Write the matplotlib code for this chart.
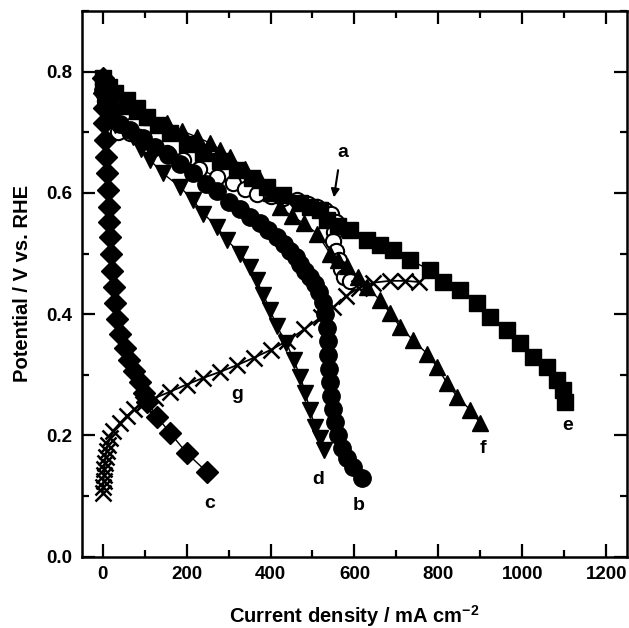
import matplotlib
matplotlib.use("Agg")
from matplotlib import pyplot as plt
from matplotlib.ticker import MultipleLocator

plt.rcParams['font.family'] = ['Liberation Sans', 'DejaVu Sans']
plt.rcParams['font.weight'] = 'bold'
plt.rcParams['mathtext.fontset'] = 'custom'
plt.rcParams['mathtext.rm'] = 'Liberation Sans:bold'
plt.rcParams['mathtext.bf'] = 'Liberation Sans:bold'
plt.rcParams['mathtext.default'] = 'bf'

# a: open circles
a_x = [0, 5, 15, 37, 66, 89, 121, 153, 191, 230, 272, 311, 340, 368, 400, 430, 463, 490, 511,
       530, 545, 556, 552, 550, 555, 562, 568, 576, 590]
a_y = [0.78, 0.752, 0.725, 0.70, 0.698, 0.69, 0.676, 0.665, 0.654, 0.64, 0.626, 0.616, 0.607,
       0.599, 0.595, 0.592, 0.588, 0.582, 0.577, 0.571, 0.565, 0.552, 0.535, 0.52, 0.505, 0.49,
       0.475, 0.462, 0.454]

# b: filled circles
b_x = [0, 8, 20, 40, 65, 95, 125, 155, 185, 215, 245, 272, 300, 327, 352, 375, 395, 415, 432,
       447, 460, 471, 483, 494, 505, 515, 524, 530, 534, 536, 538, 540, 542, 545, 549, 554, 561,
       570, 582, 597, 618]
b_y = [0.77, 0.745, 0.728, 0.713, 0.703, 0.69, 0.676, 0.662, 0.648, 0.632, 0.615, 0.603, 0.585,
       0.573, 0.561, 0.55, 0.538, 0.527, 0.516, 0.505, 0.494, 0.482, 0.472, 0.461, 0.449, 0.436,
       0.42, 0.40, 0.378, 0.355, 0.333, 0.31, 0.288, 0.265, 0.243, 0.222, 0.20, 0.18, 0.163,
       0.148, 0.13]

# c: filled diamonds
c_x = [0, 2, 3, 4, 6, 8, 10, 12, 14, 16, 18, 20, 23, 26, 30, 35, 42, 52, 63, 75, 88, 98, 106,
       130, 161, 200, 248]
c_y = [0.79, 0.765, 0.74, 0.715, 0.688, 0.66, 0.632, 0.605, 0.577, 0.552, 0.527, 0.50, 0.472,
       0.445, 0.418, 0.392, 0.367, 0.345, 0.325, 0.306, 0.288, 0.27, 0.255, 0.23, 0.204, 0.171,
       0.14]

# d: filled down triangles
d_x = [0, 10, 30, 50, 72, 92, 113, 144, 184, 215, 240, 272, 296, 328, 351, 367, 383, 399, 415,
       438, 455, 471, 483, 494, 506, 518, 528]
d_y = [0.75, 0.728, 0.712, 0.703, 0.693, 0.672, 0.654, 0.632, 0.61, 0.588, 0.566, 0.544, 0.522,
       0.50, 0.478, 0.456, 0.432, 0.407, 0.38, 0.352, 0.325, 0.297, 0.27, 0.242, 0.214, 0.195,
       0.176]

# e: filled squares
e_x = [0, 15, 30, 58, 82, 105, 132, 160, 200, 240, 280, 320, 355, 391, 430, 470, 495, 518, 535,
       560, 590, 630, 660, 692, 733, 780, 811, 852, 893, 924, 964, 995, 1026, 1059, 1083, 1098,
       1102]
e_y = [0.79, 0.775, 0.765, 0.753, 0.74, 0.725, 0.712, 0.698, 0.681, 0.665, 0.652, 0.638, 0.624,
       0.61, 0.597, 0.583, 0.577, 0.572, 0.555, 0.545, 0.539, 0.522, 0.514, 0.506, 0.489, 0.473,
       0.453, 0.44, 0.418, 0.395, 0.374, 0.353, 0.33, 0.313, 0.291, 0.275, 0.255]

# f: filled up triangles
f_x = [0, 10, 25, 50, 80, 115, 153, 190, 225, 256, 280, 304, 340, 375, 400, 423, 450, 479, 511,
       542, 560, 582, 609, 630, 661, 685, 709, 740, 773, 797, 821, 845, 876, 900]
f_y = [0.78, 0.765, 0.752, 0.743, 0.735, 0.725, 0.715, 0.702, 0.692, 0.682, 0.671, 0.659, 0.64,
       0.621, 0.60, 0.577, 0.562, 0.55, 0.533, 0.50, 0.49, 0.48, 0.461, 0.445, 0.423, 0.402,
       0.379, 0.357, 0.335, 0.313, 0.286, 0.264, 0.242, 0.22]

# g: crosses
g_x = [0, 1, 2, 3, 4, 5, 7, 9, 12, 17, 25, 40, 57, 75, 95, 125, 160, 200, 240, 280, 320, 360,
       400, 440, 480, 520, 550, 580, 610, 645, 685, 720, 755]
g_y = [0.105, 0.115, 0.125, 0.135, 0.145, 0.155, 0.165, 0.175, 0.185, 0.195, 0.207, 0.22, 0.232,
       0.243, 0.252, 0.262, 0.272, 0.284, 0.295, 0.305, 0.316, 0.328, 0.341, 0.356, 0.375,
       0.395, 0.412, 0.43, 0.443, 0.452, 0.455, 0.455, 0.453]

labels = ['a', 'b', 'c', 'd', 'e', 'f', 'g']
label_x = [573, 610, 256, 513, 1107, 907, 320]
label_y = [0.666, 0.085, 0.088, 0.127, 0.217, 0.178, 0.267]

fig = plt.figure(figsize=(6.29, 6.28), dpi=100)
ax = fig.add_axes([0.130, 0.1135, 0.867, 0.869])

ax.plot(a_x, a_y, '-o', color='black', lw=1, ms=11, mfc='white', mec='black', mew=1.5)
ax.plot(g_x, g_y, '-x', color='black', lw=1.3, ms=11, mew=1.8)
ax.plot(c_x, c_y, '-D', color='black', lw=1, ms=11)
ax.plot(d_x, d_y, '-v', color='black', lw=1, ms=12)
ax.plot(b_x, b_y, '-o', color='black', lw=1, ms=12.5)
ax.plot(f_x, f_y, '-^', color='black', lw=1, ms=12)
ax.plot(e_x, e_y, '-s', color='black', lw=1, ms=11)

for lab, lx, ly in zip(labels, label_x, label_y):
    ax.text(lx, ly, lab, fontsize=14, fontweight='bold', ha='center', va='center')
ax.annotate('', xy=(550, 0.588), xytext=(562, 0.642),
            arrowprops=dict(arrowstyle='-|>', color='black', lw=1.5, mutation_scale=12))

ax.set_xlim(-50, 1250)
ax.set_ylim(0, 0.9)
ax.xaxis.set_major_locator(MultipleLocator(200))
ax.xaxis.set_minor_locator(MultipleLocator(100))
ax.yaxis.set_major_locator(MultipleLocator(0.2))
ax.yaxis.set_minor_locator(MultipleLocator(0.1))
ax.set_xticks([0, 200, 400, 600, 800, 1000, 1200])
ax.set_yticks([0.0, 0.2, 0.4, 0.6, 0.8])
ax.set_yticklabels(['0.0', '0.2', '0.4', '0.6', '0.8'])
ax.tick_params(which='both', direction='in', top=True, right=True, width=1.6,
               labelsize=13.5, pad=7)
ax.tick_params(which='major', length=9.5)
ax.tick_params(which='minor', length=5)
for sp in ax.spines.values():
    sp.set_linewidth(1.8)

ax.set_xlabel('Current density / mA cm$^{-2}$', fontsize=14.5, fontweight='bold', labelpad=14)
ax.set_ylabel('Potential / V vs. RHE', fontsize=14.5, fontweight='bold', labelpad=10)

fig.savefig('out.png', dpi=100)
